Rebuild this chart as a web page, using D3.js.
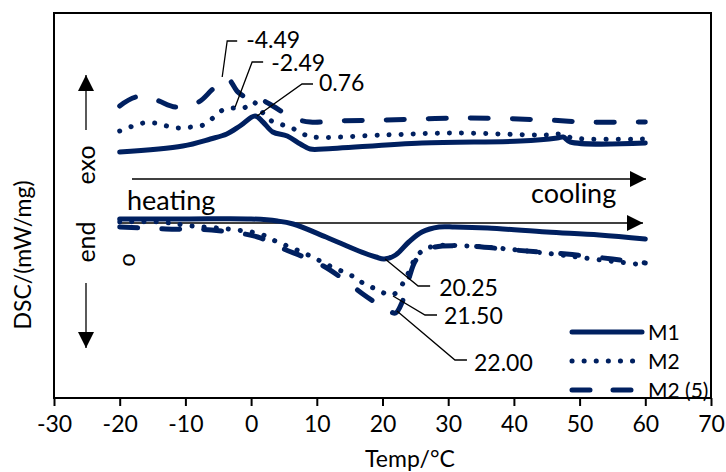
<!DOCTYPE html>
<html>
<head>
<meta charset="utf-8">
<script src="https://cdn.jsdelivr.net/npm/d3@7"></script>
<style>
  body { margin: 0; background: #fff; }
  text { font-family: Lato, "Open Sans", sans-serif; fill: #000; }
</style>
</head>
<body>
<svg id="chart" width="726" height="472"></svg>
<script>
// temperatures (°C) and DSC signal (arbitrary offset units)
let m1HeatT = [-20, -10.4, -6.2, -3.7, -1.7, 0.6, 1.8, 3.3, 5.5, 7.5, 9, 11, 26, 41, 46.6, 47.5, 48.6, 60];
let m1HeatV = [24.6, 25.2, 25.9, 26.4, 27.2, 28.2, 27.6, 26.6, 26.2, 25.4, 24.9, 24.9, 25.5, 25.7, 26.0, 26.1, 25.6, 25.5];

let m2HeatT = [-20, -18.4, -16.4, -14.6, -12.8, -11, -9.1, -7.3, -5.8, -4.3, -2.7, -1.1, 0.3, 2.6, 4.4, 6.2, 7.9, 9.5, 20, 31, 45, 47, 49, 60];
let m2HeatV = [26.7, 27.1, 27.5, 27.5, 27.2, 27.0, 27.1, 27.3, 28.0, 28.8, 29.0, 29.0, 29.6, 27.9, 27.4, 27.0, 26.4, 26.1, 26.3, 26.5, 26.3, 26.4, 26.0, 25.9];

let m25HeatT = [-20, -17.5, -14.5, -11.5, -8, -5.8, -3.6, -2, -0.5, 1, 3.3, 6.4, 9, 13, 20, 33, 45, 51, 60];
let m25HeatV = [29.2, 30.1, 29.8, 29.1, 29.6, 30.9, 31.9, 30.6, 30.0, 30.0, 29.2, 28.0, 27.6, 27.7, 27.8, 28.0, 27.8, 27.6, 27.6];

let m1CoolT = [-20, -10, 0, 4, 6.4, 11.4, 16.4, 19, 20.25, 22, 24, 26, 28.6, 31, 36, 45, 53, 60];
let m1CoolV = [17.9, 17.9, 17.9, 17.7, 17.4, 16.1, 14.7, 14.1, 13.9, 14.3, 15.6, 16.6, 17.1, 17.1, 17.0, 16.6, 16.3, 15.9];

let m2CoolT = [-20, -14, -9, -3.5, 1.4, 3.7, 8.7, 12, 15.4, 17, 19, 21.5, 23.5, 24.5, 26, 28, 33, 39, 46, 52, 60];
let m2CoolV = [17.6, 17.6, 17.2, 16.9, 16.4, 15.7, 14.3, 13.2, 12.2, 11.5, 10.9, 10.3, 11.9, 13.4, 14.7, 15.2, 15.2, 14.9, 14.4, 13.9, 13.3];

let m25CoolT = [-20, -13, -6, 1, 5, 8, 11, 14, 17, 19, 21, 22, 23, 24, 25, 26.5, 28, 33, 40, 48, 55, 60];
let m25CoolV = [17.1, 16.9, 16.8, 16.1, 14.9, 14.1, 13.2, 11.9, 10.4, 9.5, 8.7, 8.5, 9.6, 11.9, 13.7, 14.7, 15.1, 15.2, 14.8, 14.4, 13.9, 13.5];

let seriesNames = ["M1", "M2", "M2 (5)"];
let xTicks = [-30, -20, -10, 0, 10, 20, 30, 40, 50, 60, 70];

// peak labels: text, anchor temperature, anchor signal
let peakText = ["-4.49", "-2.49", "0.76", "20.25", "21.50", "22.00"];
let peakT = [-4.4, -2.43, 0.9, 20.4, 21.6, 22.2];
let peakV = [32.1, 29.1, 28.2, 13.9, 10.2, 8.7];

const navy = "#002060";
const styles = [
    { dash: null },
    { dash: "0.1 12" },
    { dash: "18 24" }
];
// leader line shape for each label [bend dx, bend dy, end dx, text dx, text dy]
const leaders = [
    [5, -36, 15, 24, 7],
    [17, -45, 28, 36, 9],
    [45, -32, 56, 62, 7],
    [33, 27, 45, 54, 10],
    [32, 19, 44, 51, 9],
    [58, 49, 70, 77, 11]
];

let svg = d3.select("#chart");
let xScale = d3.scaleLinear().domain([-30, 70]).range([54, 711]);
let yScale = d3.scaleLinear().domain([0, 38.6]).range([398, 12]);

// plot frame
svg.append("rect")
    .attr("x", 54).attr("y", 13)
    .attr("width", 657).attr("height", 385)
    .attr("fill", "none").attr("stroke", "#000").attr("stroke-width", 2);

// x axis
let xg = svg.append("g").attr("transform", "translate(0,398)");
xg.call(d3.axisBottom(xScale).tickValues(xTicks).tickSize(8).tickFormat(d => String(d)));
xg.select(".domain").attr("stroke-width", 2).attr("d", "M54,0H711");
xg.selectAll(".tick line").attr("stroke-width", 2);
xg.selectAll(".tick text").attr("font-size", 23).attr("y", 18)
    .style("font-family", "Lato").attr("fill", "#000");

svg.append("text").attr("x", 410).attr("y", 467)
    .attr("text-anchor", "middle").attr("font-size", 23).text("Temp/°C");
svg.append("text").attr("transform", "translate(31,255) rotate(-90)")
    .attr("text-anchor", "middle").attr("font-size", 23).text("DSC/(mW/mg)");

// exo / end with arrows
svg.append("text").attr("transform", "translate(95,165) rotate(-90)")
    .attr("text-anchor", "middle").attr("font-size", 25).text("exo");
svg.append("text").attr("transform", "translate(95,242) rotate(-90)")
    .attr("text-anchor", "middle").attr("font-size", 25).text("end");
svg.append("text").attr("transform", "translate(135,260) rotate(-90)")
    .attr("text-anchor", "middle").attr("font-size", 24).text("o");

let defs = svg.append("defs");
defs.append("marker").attr("id", "bighead")
    .attr("viewBox", "0 0 10 10").attr("refX", 10).attr("refY", 5)
    .attr("markerWidth", 16).attr("markerHeight", 16)
    .attr("markerUnits", "userSpaceOnUse")
    .attr("orient", "auto")
    .append("path").attr("d", "M0,0L10,5L0,10Z").attr("fill", "#000");

let arrows = [[86, 130, 86, 75], [86, 283, 86, 348],
              [132, 179, 646, 179], [118, 223, 643, 223]];
svg.selectAll(".arrow").data(arrows).join("line").attr("class", "arrow")
    .attr("x1", d => d[0]).attr("y1", d => d[1])
    .attr("x2", d => d[2]).attr("y2", d => d[3])
    .attr("stroke", "#000").attr("stroke-width", 1.3)
    .attr("marker-end", "url(#bighead)");

svg.append("text").attr("x", 127).attr("y", 210).attr("font-size", 27).text("heating");
svg.append("text").attr("x", 531).attr("y", 203).attr("font-size", 27).text("cooling");

// curves
let line = d3.line().x(d => xScale(d[0])).y(d => yScale(d[1])).curve(d3.curveCatmullRom.alpha(0.5));
let curves = [
    [m1HeatT, m1HeatV, 0], [m2HeatT, m2HeatV, 1], [m25HeatT, m25HeatV, 2],
    [m1CoolT, m1CoolV, 0], [m2CoolT, m2CoolV, 1], [m25CoolT, m25CoolV, 2]
];
svg.selectAll(".curve").data(curves).join("path").attr("class", "curve")
    .attr("d", d => line(d3.zip(d[0], d[1])))
    .attr("fill", "none")
    .attr("stroke", navy)
    .attr("stroke-width", 5)
    .attr("stroke-linecap", "round")
    .attr("stroke-linejoin", "round")
    .attr("stroke-dasharray", d => styles[d[2]].dash);

// peak labels
let labelG = svg.selectAll(".peak").data(peakText).join("g").attr("class", "peak")
    .attr("transform", (d, i) => `translate(${xScale(peakT[i])},${yScale(peakV[i])})`);
labelG.append("path")
    .attr("d", (d, i) => `M0,0L${leaders[i][0]},${leaders[i][1]}H${leaders[i][2]}`)
    .attr("fill", "none").attr("stroke", "#000").attr("stroke-width", 1.3);
labelG.append("text")
    .attr("x", (d, i) => leaders[i][3])
    .attr("y", (d, i) => leaders[i][1] + leaders[i][4])
    .attr("font-size", 23).text(d => d);

// legend
let legend = svg.selectAll(".legend").data(seriesNames).join("g").attr("class", "legend")
    .attr("transform", (d, i) => `translate(572,${332 + i * 29})`);
legend.append("line")
    .attr("x1", 0).attr("x2", (d, i) => i == 0 ? 70 : 64)
    .attr("stroke", navy).attr("stroke-width", 5)
    .attr("stroke-linecap", "round")
    .attr("stroke-dasharray", (d, i) => i == 2 ? "18 23" : styles[i].dash);
legend.append("text").attr("x", 76).attr("y", 8).attr("font-size", 21).text(d => d);
</script>
</body>
</html>
